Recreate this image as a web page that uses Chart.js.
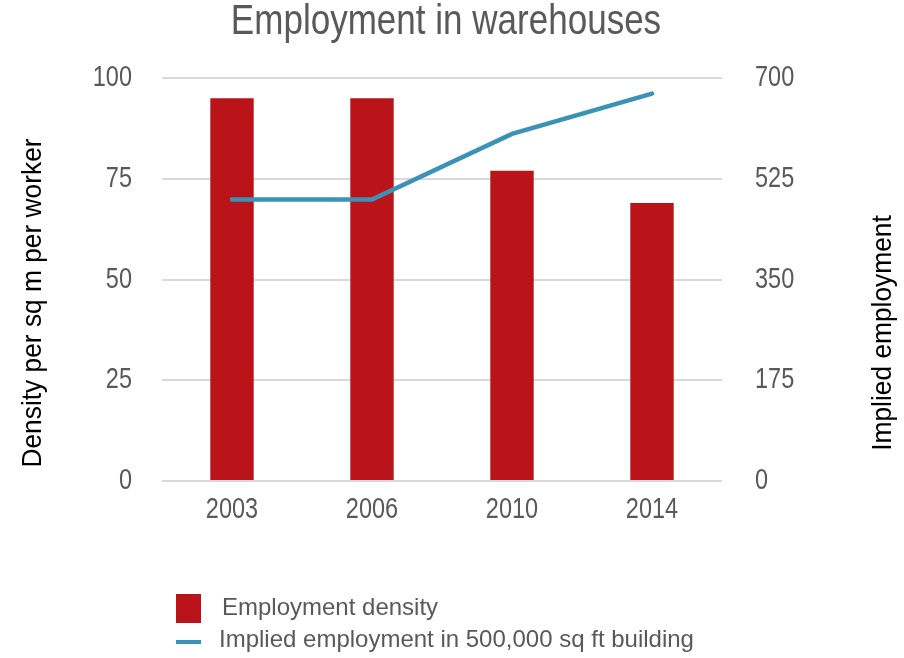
<!DOCTYPE html>
<html>
<head>
<meta charset="utf-8">
<script src="https://cdn.jsdelivr.net/npm/chart.js@4"></script>
<style>
  html, body { margin: 0; padding: 0; background: #fff; }
  #wrap { width: 904px; height: 658px; }
</style>
</head>
<body>
<div id="wrap"><canvas id="chart" width="904" height="658"></canvas></div>
<script>
// data
const years = ['2003', '2006', '2010', '2014'];
const densityValues = [95, 95, 77, 69];
const impliedValues = [489, 489, 603, 673];
const leftTicks = [0, 25, 50, 75, 100];
const rightTicks = [0, 175, 350, 525, 700];

const FONT = '"Liberation Sans", Arial, sans-serif';
const GREY = '#595959';
const RED = '#BA141A';
const BLUE = '#3A93B6';

// text squeezed sideways to look like the narrow font of the original
function narrowText(ctx, text, x, y, size, sx, align, color, rot) {
    ctx.save();
    ctx.font = size + 'px ' + FONT;
    ctx.fillStyle = color;
    ctx.textAlign = align;
    ctx.textBaseline = 'middle';
    ctx.translate(x, y);
    if (rot) ctx.rotate(rot);
    ctx.scale(sx, 1);
    ctx.fillText(text, 0, 0);
    ctx.restore();
}

// title, tick labels, rotated axis titles and stacked legend drawn by hand
const decorations = {
    id: 'decorations',
    afterDraw(chart) {
        const ctx = chart.ctx;
        const sx = chart.scales.x, sy = chart.scales.y, sy1 = chart.scales.y1;

        narrowText(ctx, 'Employment in warehouses', 446, 22, 42, 0.834, 'center', GREY);

        sy.ticks.forEach(t => {
            narrowText(ctx, String(t.value), 132, sy.getPixelForValue(t.value), 29, 0.81, 'right', GREY);
        });
        sy1.ticks.forEach(t => {
            narrowText(ctx, String(t.value), 755, sy1.getPixelForValue(t.value), 29, 0.81, 'left', GREY);
        });
        chart.data.labels.forEach((lab, i) => {
            narrowText(ctx, lab, sx.getPixelForValue(i), 510, 29, 0.81, 'center', GREY);
        });

        narrowText(ctx, 'Density per sq m per worker', 33, 303, 28, 0.94, 'center', '#000', -Math.PI / 2);
        narrowText(ctx, 'Implied employment', 883, 333, 28, 0.94, 'center', '#000', -Math.PI / 2);

        // legend: bars first, then the line
        const bars = chart.data.datasets[1], line = chart.data.datasets[0];
        ctx.save();
        ctx.fillStyle = bars.backgroundColor;
        ctx.fillRect(176, 594, 25, 29);
        ctx.fillStyle = line.borderColor;
        ctx.fillRect(176, 640, 25, 4);
        ctx.restore();
        narrowText(ctx, bars.label, 222, 608, 24, 1, 'left', GREY);
        narrowText(ctx, line.label, 219, 640, 24, 1, 'left', GREY);
    }
};

new Chart(document.getElementById('chart'), {
    type: 'bar',
    data: {
        labels: years,
        datasets: [
            {
                type: 'line',
                label: 'Implied employment in 500,000 sq ft building',
                data: impliedValues,
                yAxisID: 'y1',
                borderColor: BLUE,
                borderWidth: 4.5,
                borderCapStyle: 'round',
                pointRadius: 0,
                tension: 0,
                order: 0
            },
            {
                label: 'Employment density',
                data: densityValues,
                yAxisID: 'y',
                backgroundColor: RED,
                barPercentage: 0.62,
                categoryPercentage: 0.5,
                order: 1
            }
        ]
    },
    options: {
        responsive: false,
        animation: false,
        devicePixelRatio: 1,
        layout: { padding: { top: 78, left: 0, right: 0, bottom: 0 } },
        plugins: {
            legend: { display: false },
            title: { display: false },
            tooltip: { enabled: false }
        },
        scales: {
            x: {
                grid: { display: false },
                border: { display: false },
                ticks: { display: false },
                afterFit(scale) { scale.height = 658 - 481; }
            },
            y: {
                position: 'left',
                min: 0,
                max: 100,
                afterBuildTicks(scale) { scale.ticks = leftTicks.map(v => ({ value: v })); },
                grid: { color: '#D9D9D9', lineWidth: 2, drawTicks: false },
                border: { display: false },
                ticks: { display: false },
                afterFit(scale) { scale.width = 162; }
            },
            y1: {
                position: 'right',
                min: 0,
                max: 700,
                afterBuildTicks(scale) { scale.ticks = rightTicks.map(v => ({ value: v })); },
                grid: { display: false, drawTicks: false },
                border: { display: false },
                ticks: { display: false },
                afterFit(scale) { scale.width = 904 - 722; }
            }
        }
    },
    plugins: [decorations]
});
</script>
</body>
</html>
